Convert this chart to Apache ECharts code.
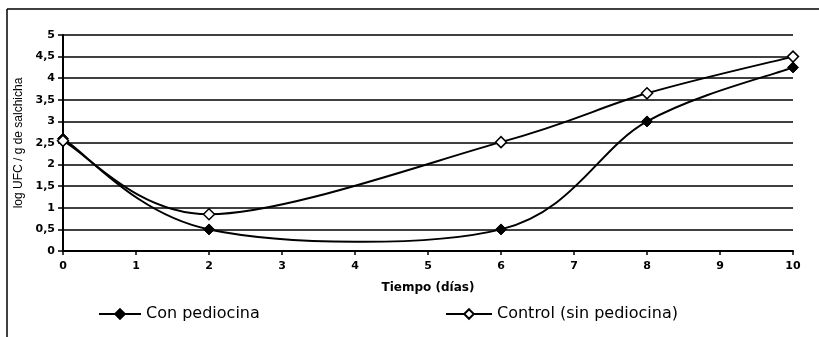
<!DOCTYPE html>
<html>
<head>
<meta charset="utf-8">
<script src="https://cdn.jsdelivr.net/npm/echarts@6/dist/echarts.min.js"></script>
<style>html,body{margin:0;padding:0;background:#fff}#c{width:819px;height:337px}</style>
</head>
<body>
<div id="c"></div>
<script>
var days = [0, 2, 6, 8, 10];
var conPediocina = [2.6, 0.5, 0.5, 3.0, 4.25];
var controlSin = [2.55, 0.85, 2.52, 3.65, 4.5];
var seriesNames = ['Con pediocina', 'Control (sin pediocina)'];
var xTitle = 'Tiempo (días)';
var yTitle = 'log UFC / g de salchicha';

function pairs(xs, ys) { return xs.map(function (x, i) { return [x, ys[i]]; }); }

// Smoothed curve (Catmull-Rom style Bezier, as spreadsheet "smoothed line"),
// each segment placed through the chart's own scales with api.coord.
function curveSeries(xs, ys) {
  var pts = pairs(xs, ys);
  return {
    type: 'custom', coordinateSystem: 'cartesian2d', z: 1, silent: true,
    data: pts,
    renderItem: function (params, api) {
      var i = params.dataIndex, n = pts.length;
      if (i >= n - 1) return null;
      var p0 = api.coord(pts[Math.max(i - 1, 0)]);
      var p1 = api.coord(pts[i]);
      var p2 = api.coord(pts[i + 1]);
      var p3 = api.coord(pts[Math.min(i + 2, n - 1)]);
      var t = 1 / 6;
      return {
        type: 'bezierCurve',
        shape: {
          x1: p1[0], y1: p1[1], x2: p2[0], y2: p2[1],
          cpx1: p1[0] + (p2[0] - p0[0]) * t, cpy1: p1[1] + (p2[1] - p0[1]) * t,
          cpx2: p2[0] - (p3[0] - p1[0]) * t, cpy2: p2[1] - (p3[1] - p1[1]) * t
        },
        style: {stroke: '#000', lineWidth: 2, fill: null}
      };
    }
  };
}

var chart = echarts.init(document.getElementById('c'), null, {renderer: 'canvas'});
var tickFont = {color: '#000', fontFamily: 'DejaVu Sans', fontWeight: 'bold', fontSize: 11};
var legendLine = {color: '#000', width: 2, opacity: 1};
var legendCommon = {itemHeight: 12, textStyle: {color: '#000', fontFamily: 'DejaVu Sans', fontSize: 16},
  lineStyle: legendLine};
chart.setOption({
  animation: false,
  backgroundColor: '#fff',
  grid: {left: 63, right: 26, top: 35, bottom: 86},
  xAxis: {
    type: 'value', min: 0, max: 10, interval: 1,
    name: xTitle, nameLocation: 'middle', nameGap: 31,
    nameTextStyle: {color: '#000', fontFamily: 'DejaVu Sans', fontWeight: 'bold', fontSize: 12},
    axisLine: {lineStyle: {color: '#000', width: 2}},
    axisTick: {show: true, length: 4, lineStyle: {color: '#000', width: 1.5}},
    axisLabel: Object.assign({margin: 10, formatter: function (v) { return String(v); }}, tickFont),
    splitLine: {show: false}
  },
  yAxis: {
    type: 'value', min: 0, max: 5, interval: 0.5,
    name: yTitle, nameLocation: 'middle', nameGap: 38,
    nameTextStyle: {color: '#000', fontFamily: 'Liberation Sans', fontSize: 12},
    axisLine: {show: true, lineStyle: {color: '#000', width: 2}},
    axisTick: {show: true, length: 5, lineStyle: {color: '#000', width: 1.5}},
    axisLabel: Object.assign({margin: 8, formatter: function (v) { return String(v).replace('.', ','); }}, tickFont),
    splitLine: {show: true, lineStyle: {color: '#000', width: 1.6}}
  },
  legend: [
    Object.assign({data: [{name: seriesNames[0], lineStyle: legendLine}], left: 93, top: 301, itemWidth: 42}, legendCommon),
    Object.assign({data: [{name: seriesNames[1], lineStyle: legendLine}], left: 440, top: 301, itemWidth: 46}, legendCommon)
  ],
  graphic: [
    {type: 'line', shape: {x1: 7, y1: 9, x2: 7, y2: 337}, style: {stroke: '#000', lineWidth: 1.5}},
    {type: 'line', shape: {x1: 7, y1: 9, x2: 819, y2: 9}, style: {stroke: '#000', lineWidth: 1.5}}
  ],
  series: [
    curveSeries(days, conPediocina),
    curveSeries(days, controlSin),
    {name: seriesNames[0], type: 'line', z: 3, data: pairs(days, conPediocina),
     symbol: 'diamond', symbolSize: 11,
     lineStyle: {color: 'transparent', width: 2},
     itemStyle: {color: '#000', borderColor: '#000', borderWidth: 1}},
    {name: seriesNames[1], type: 'line', z: 3, data: pairs(days, controlSin),
     symbol: 'diamond', symbolSize: 11,
     lineStyle: {color: 'transparent', width: 2},
     itemStyle: {color: '#fff', borderColor: '#000', borderWidth: 1.5}}
  ]
});
</script>
</body>
</html>
